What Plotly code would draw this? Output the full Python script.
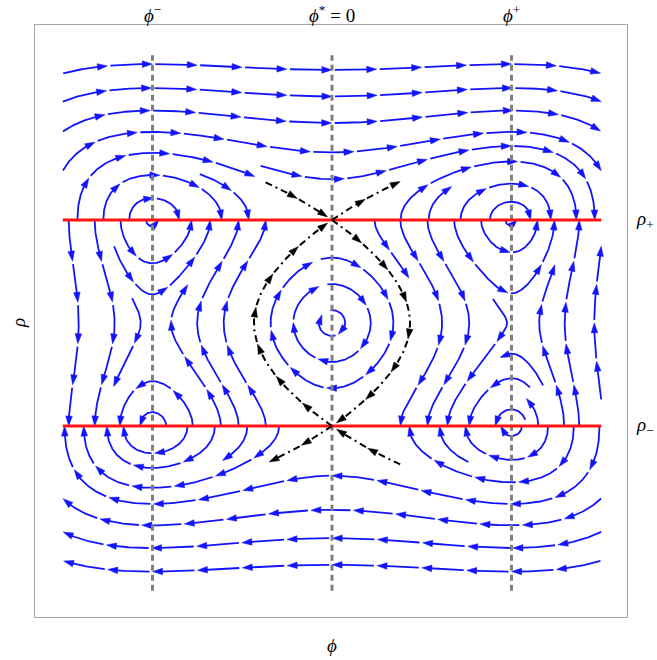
import numpy as np
import plotly.graph_objects as go
from collections import deque

# ---------------- chart data ----------------
phi_fixed = [-1.0, 0.0, 1.0]            # φ−, φ* = 0, φ+
rho_fixed = [1.0, -1.0]                 # ρ+, ρ−
coupling = 2.92                         # field coupling (level sets H = ρ⁴/4 − ρ²/2 − c(φ²/2 − φ⁴/4))
phi_domain = [-1.5, 1.5]
rho_domain = [-2.6, 2.6]
phi_axis_range = [-1.6546, 1.6435]
rho_axis_range = [-2.854, 2.893]
top_labels = ["<i>ϕ</i><sup>−</sup>", "<i>ϕ</i><sup>*</sup> = 0", "<i>ϕ</i><sup>+</sup>"]
side_labels = ["<i>ρ</i><sub>+</sub>", "<i>ρ</i><sub>−</sub>"]
separatrix_reach = [0.37, 0.38, 0.38, 0.35]   # upper-left, upper-right, lower-right, lower-left

# ---------------- geometry (pixel frame of the plot area) ----------------
W_IMG, H_IMG = 657, 660
ML, MT, PW, PH = 35, 25, 592, 592
xr0, xr1 = phi_axis_range
yr0, yr1 = rho_axis_range
SX = PW / (xr1 - xr0)
SY = PH / (yr1 - yr0)


def to_px(p, r):
    return ML + (p - xr0) * SX, MT + (yr1 - r) * SY


def to_data(X, Y):
    return xr0 + (X - ML) / SX, yr1 - (Y - MT) / SY


C = coupling
RED_Y = [to_px(0, r)[1] for r in rho_fixed]
DX0, DY1 = to_px(phi_domain[0], rho_domain[0])
DX1, DY0 = to_px(phi_domain[1], rho_domain[1])


def region(Y):
    if Y < RED_Y[0]:
        return 0
    if Y < RED_Y[1]:
        return 1
    return 2


def direction(X, Y):
    p, r = to_data(X, Y)
    u = r * (r * r - 1.0)
    v = C * p * (1.0 - p * p)
    s = 1.0 if r * r > 1.0 else -1.0
    dx = s * u * SX
    dy = -s * v * SY
    n = np.hypot(dx, dy)
    if n < 1e-7:
        return None
    return dx / n, dy / n


def disc(r):
    R = int(np.ceil(r))
    yy, xx = np.mgrid[-R:R + 1, -R:R + 1]
    return (xx * xx + yy * yy) <= r * r, R


DSEP = 26.0
DTEST = 12.0
mask_t, R_t = disc(DTEST)
mask_s, R_s = disc(DSEP * 0.92)
near_test = [np.zeros((H_IMG, W_IMG), bool) for _ in range(3)]
near_sep = [np.zeros((H_IMG, W_IMG), bool) for _ in range(3)]


def stamp(arr, mask, R, pts):
    for X, Y in pts:
        xi, yi = int(round(X)), int(round(Y))
        x0, x1, y0, y1 = xi - R, xi + R + 1, yi - R, yi + R + 1
        cx0, cx1 = max(x0, 0), min(x1, W_IMG)
        cy0, cy1 = max(y0, 0), min(y1, H_IMG)
        if cx0 >= cx1 or cy0 >= cy1:
            continue
        arr[cy0:cy1, cx0:cx1] |= mask[cy0 - y0:cy1 - y0, cx0 - x0:cx1 - x0]


def stamp_line(P, k):
    sub = P[::2]
    stamp(near_test[k], mask_t, R_t, sub)
    stamp(near_sep[k], mask_s, R_s, sub)


H_STEP = 1.0
MAXS = 3000
KSELF = int(2.2 * DTEST)


def integrate(X, Y, sgn, k, prior):
    pts = [(X, Y)]
    own = np.empty((MAXS + 5, 2))
    own[0] = (X, Y)
    n = 1
    for step in range(MAXS):
        d1 = direction(X, Y)
        if d1 is None:
            break
        Xm, Ym = X + 0.5 * H_STEP * sgn * d1[0], Y + 0.5 * H_STEP * sgn * d1[1]
        d2 = direction(Xm, Ym)
        if d2 is None or d1[0] * d2[0] + d1[1] * d2[1] < 0:
            d2 = d1
        Xn, Yn = X + H_STEP * sgn * d2[0], Y + H_STEP * sgn * d2[1]
        crossed = False
        for Yl in RED_Y:
            if (Y - Yl) * (Yn - Yl) <= 0 and Yn != Y:
                t = (Yl - Y) / (Yn - Y)
                Xn = X + t * (Xn - X)
                Yn = Yl
                crossed = True
                break
        if Xn < DX0 or Xn > DX1 or Yn < DY0 or Yn > DY1:
            break
        if not crossed and near_test[k][int(round(Yn)), int(round(Xn))]:
            break
        if step % 2 == 0:
            stop = False
            if n > KSELF:
                dd = ((own[:n - KSELF] - (Xn, Yn)) ** 2).sum(1).min()
                if dd < (0.8 * DTEST) ** 2:
                    stop = True
            if prior is not None and len(prior):
                dd = ((prior - (Xn, Yn)) ** 2).sum(1).min()
                if dd < (0.8 * DTEST) ** 2:
                    stop = True
            if stop:
                break
        pts.append((Xn, Yn))
        own[n] = (Xn, Yn)
        n += 1
        X, Y = Xn, Yn
        if crossed:
            break
    return pts


def trace(seed):
    X0, Y0 = seed
    k = region(Y0)
    fwd = integrate(X0, Y0, +1, k, None)
    fa = np.array(fwd)
    prior = fa[KSELF:] if len(fa) > KSELF else None
    bwd = integrate(X0, Y0, -1, k, prior)
    line = bwd[::-1] + fwd[1:]
    return np.array(line), k


def arclen(P):
    return float(np.hypot(np.diff(P[:, 0]), np.diff(P[:, 1])).sum()) if len(P) > 1 else 0.0


def trim_end(P, cut):
    d = np.hypot(np.diff(P[:, 0]), np.diff(P[:, 1]))
    s = np.concatenate([[0.0], np.cumsum(d)])
    keep = s <= s[-1] - cut
    return P[keep]


# ---------------- separatrix (level set through (φ*, ρ±)) ----------------
sq = np.sqrt(C)
sep_curves = []
rr = np.linspace(rho_fixed[0], rho_fixed[1], 400)
kk = (1 - rr ** 2) / sq
ph = np.sqrt(1 - np.sqrt(1 - kk ** 2))
sep_curves.append((ph, rr, 1, True))                 # inner right, downward, ends at ρ− saddle
sep_curves.append((-ph[::-1], rr[::-1], 1, True))    # inner left, upward, ends at ρ+ saddle
for (reach, upper, sign_phi, towards) in [(separatrix_reach[0], True, -1, True),
                                           (separatrix_reach[1], True, 1, False),
                                           (separatrix_reach[2], False, 1, True),
                                           (separatrix_reach[3], False, -1, False)]:
    f = np.linspace(0, reach, 120)
    rho = np.sqrt(1 + sq * f * np.sqrt(2 - f ** 2))
    if not upper:
        rho = -rho
    phi = sign_phi * f
    if towards:
        phi, rho = phi[::-1], rho[::-1]
    sep_curves.append((phi, rho, 0 if upper else 2, towards))

sep_px = []
for phi, rho, k, ends_at_saddle in sep_curves:
    X, Y = to_px(phi, rho)
    P = np.column_stack([X, Y])
    stamp_line(P, k)
    sep_px.append(trim_end(P, 5.0) if ends_at_saddle else P)

# ---------------- evenly spaced streamlines ----------------
streams = []
queue = deque([to_px(0.0, 2.2)])
grid_seeds = []
for Yg in np.arange(DY0 + 6, DY1 - 6, 9.0):
    for Xg in np.arange(DX0 + 6, DX1 - 6, 9.0):
        grid_seeds.append((Xg, Yg))
gi = 0


def valid_seed(X, Y):
    if X < DX0 + 2 or X > DX1 - 2 or Y < DY0 + 2 or Y > DY1 - 2:
        return False
    if min(abs(Y - Yl) for Yl in RED_Y) < 2.5:
        return False
    k = region(Y)
    return not near_sep[k][int(round(Y)), int(round(X))]


while True:
    if queue:
        seed = queue.popleft()
    elif gi < len(grid_seeds):
        seed = grid_seeds[gi]
        gi += 1
    else:
        break
    if not valid_seed(*seed):
        continue
    P, k = trace(seed)
    if len(P) < 3 or arclen(P) < 16:
        continue
    streams.append(P)
    stamp_line(P, k)
    for i in range(0, len(P) - 1, 8):
        dx, dy = P[i + 1] - P[i]
        nrm = np.hypot(dx, dy)
        if nrm < 1e-9:
            continue
        nx, ny = -dy / nrm, dx / nrm
        queue.append((P[i, 0] + DSEP * nx, P[i, 1] + DSEP * ny))
        queue.append((P[i, 0] - DSEP * nx, P[i, 1] - DSEP * ny))


# ---------------- chop into arrowed segments ----------------
def chop(P, seglen, gap=3.0, alen=10.0, ahw=3.3):
    P = np.asarray(P, float)
    d = np.hypot(np.diff(P[:, 0]), np.diff(P[:, 1]))
    s = np.concatenate([[0.0], np.cumsum(d)])
    L = s[-1]
    if L < 8:
        return [], []
    n = max(1, int(round(L / seglen)))
    sl = L / n
    lines, tris = [], []
    for i in range(n):
        a0 = i * sl + (gap if i > 0 else 0.0)
        a1 = (i + 1) * sl
        aend = max(a0, a1 - 0.6 * alen)
        inner = s[(s > a0) & (s < aend)]
        ts = np.concatenate([[a0], inner, [aend]])
        lines.append(np.column_stack([np.interp(ts, s, P[:, 0]), np.interp(ts, s, P[:, 1])]))
        tip = np.array([np.interp(a1, s, P[:, 0]), np.interp(a1, s, P[:, 1])])
        ab = max(0.0, a1 - alen)
        back = np.array([np.interp(ab, s, P[:, 0]), np.interp(ab, s, P[:, 1])])
        v = tip - back
        nv = np.hypot(*v)
        if nv < 1e-6:
            continue
        v = v / nv
        base = tip - v * alen
        perp = np.array([-v[1], v[0]])
        tris.append(np.array([tip, base + perp * ahw, base - perp * ahw, tip]))
    return lines, tris


def join(polys):
    xs, ys = [], []
    for Q in polys:
        p, r = to_data(Q[:, 0], Q[:, 1])
        xs.extend(p.tolist() + [None])
        ys.extend(r.tolist() + [None])
    return xs, ys


blue_lines, blue_tris = [], []
for P in streams:
    l, t = chop(P, 44.0)
    blue_lines += l
    blue_tris += t

black_lines, black_tris = [], []
for P in sep_px:
    l, t = chop(P, 36.0, gap=2.0)
    black_lines += l
    black_tris += t

BLUE = "rgb(20,20,250)"
fig = go.Figure()
bx, by = join(blue_lines)
fig.add_trace(go.Scatter(x=bx, y=by, mode="lines", line=dict(color=BLUE, width=1.8),
                         hoverinfo="skip", showlegend=False))
tx, ty = join(blue_tris)
fig.add_trace(go.Scatter(x=tx, y=ty, mode="lines", fill="toself", fillcolor=BLUE,
                         line=dict(color=BLUE, width=0.5), hoverinfo="skip", showlegend=False))

# dashed verticals at φ−, φ*, φ+
gx, gy = [], []
for p in phi_fixed:
    gx += [p, p, None]
    gy += [rho_domain[0], rho_domain[1], None]
fig.add_trace(go.Scatter(x=gx, y=gy, mode="lines",
                         line=dict(color="rgb(128,128,128)", width=3, dash="6px,4px"),
                         hoverinfo="skip", showlegend=False))

# red lines ρ+ and ρ−
rx, ry = [], []
for r in rho_fixed:
    rx += [phi_domain[0], phi_domain[1], None]
    ry += [r, r, None]
fig.add_trace(go.Scatter(x=rx, y=ry, mode="lines", line=dict(color="rgb(255,20,20)", width=3),
                         hoverinfo="skip", showlegend=False))

kx, ky = join(black_lines)
fig.add_trace(go.Scatter(x=kx, y=ky, mode="lines",
                         line=dict(color="black", width=2, dash="7px,4px,2px,4px"),
                         hoverinfo="skip", showlegend=False))
kx2, ky2 = join(black_tris)
fig.add_trace(go.Scatter(x=kx2, y=ky2, mode="lines", fill="toself", fillcolor="black",
                         line=dict(color="black", width=0.5), hoverinfo="skip", showlegend=False))

FONT = dict(family="Liberation Serif, DejaVu Serif, serif", size=19, color="black")
ann = []
for p, t in zip(phi_fixed, top_labels):
    ann.append(dict(x=p, y=1 + 11 / PH, xref="x", yref="paper", text=t, showarrow=False,
                    font=FONT, xanchor="center", yanchor="middle"))
for r, t in zip(rho_fixed, side_labels):
    ann.append(dict(x=1 + 18 / PW, y=r, xref="paper", yref="y", text=t, showarrow=False,
                    font=FONT, xanchor="center", yanchor="middle"))
ann.append(dict(x=-17 / PW, y=0, xref="paper", yref="y", text="<i>ρ</i>", showarrow=False,
                font=FONT, textangle=-90, xanchor="center", yanchor="middle"))
ann.append(dict(x=0, y=-28 / PH, xref="x", yref="paper", text="<i>ϕ</i>", showarrow=False,
                font=FONT, xanchor="center", yanchor="middle"))

axis_common = dict(showgrid=False, zeroline=False, showticklabels=False, ticks="",
                   showline=True, mirror=True, linecolor="rgb(165,165,165)", linewidth=1)
fig.update_layout(width=W_IMG, height=H_IMG, margin=dict(l=ML, r=W_IMG - ML - PW, t=MT, b=H_IMG - MT - PH),
                  plot_bgcolor="white", paper_bgcolor="white", annotations=ann,
                  xaxis=dict(range=phi_axis_range, **axis_common),
                  yaxis=dict(range=rho_axis_range, **axis_common))
fig.write_html("out.html", config={"displayModeBar": False},
               post_script="document.body.style.margin='0px';document.body.style.overflow='hidden';")
